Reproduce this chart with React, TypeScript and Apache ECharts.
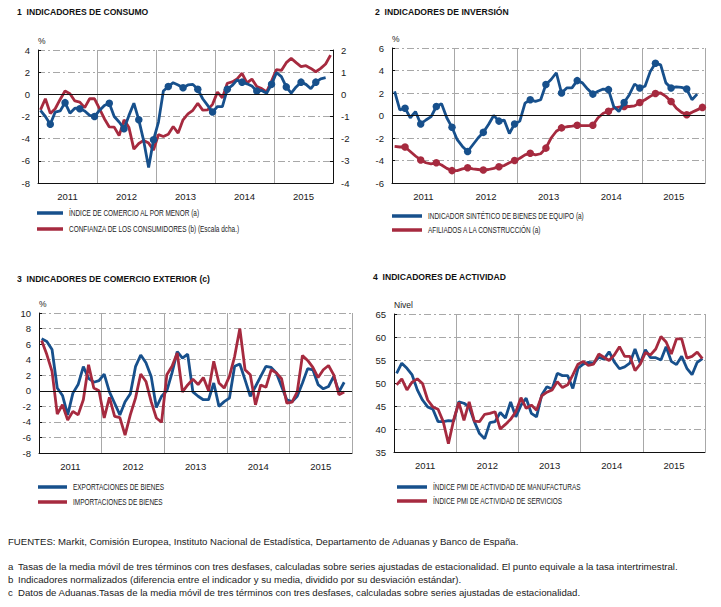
import React, { useEffect, useRef } from 'react';
import * as echarts from 'echarts';

const YEARS = ['2011', '2012', '2013', '2014', '2015'];
const MONTHS = YEARS.flatMap((y) => Array.from({ length: 12 }, (_, m) => `${y}-${String(m + 1).padStart(2, '0')}`));

// Panel 1
const COMERCIO_MENOR = [
  -1.45, -2.0, -2.7, -1.6, -1.5, -0.75, -1.7, -1.25, -1.3, -1.5, -1.9, -2.0,
  -1.45, -1.0, -0.8, -2.0, -2.5, -3.1, -1.9, -0.8, -2.3, -4.2, -6.6, -4.1,
  -2.5, 0.3, 0.7, 1.05, 0.85, 0.6, 0.85, 0.9, 0.45, -0.4, -1.0, -1.6,
  -1.1, -1.1, 0.45, 0.8, 1.3, 1.1, 0.95, 0.75, 0.3, 0.35, 0.1, 0.9,
  1.95, 1.6, 0.67, 0.1, 0.67, 1.1, 0.9, 0.5, 1.1, 1.4, 1.5, null,
];
const CONFIANZA = [
  -0.7, -0.2, -0.86, -0.65, -0.23, 0.15, 0.03, -0.3, -0.35, -0.6, -0.2, -0.2,
  -0.65, -1.1, -1.47, -1.48, -1.86, -1.15, -1.5, -2.47, -2.22, -2.08, -2.2, -2.52,
  -1.82, -1.9, -1.8, -1.45, -1.75, -1.15, -0.88, -0.72, -0.4, -0.71, -0.7, -0.45,
  0.1, -0.16, 0.5, 0.56, 0.7, 0.95, 0.52, 0.69, 0.35, 0.26, 0.11, 0.6,
  1.12, 1.08, 1.43, 1.62, 1.43, 1.25, 1.29, 1.17, 1.02, 1.17, 1.37, 1.77,
];

// Panel 2
const BIENES_EQUIPO = [
  2.15, 0.5, 0.65, -0.2, 0.35, -0.75, -0.4, -0.1, 0.8, 1.05, -0.2, -1.05,
  -2.15, -2.75, -3.2, -2.6, -2.0, -1.5, -0.8, 0.0, -0.5, -0.4, -1.6, -0.75,
  -0.5, 1.1, 1.4, 1.25, 1.4, 2.75, 3.2, 3.8, 2.0, 2.45, 2.45, 3.1,
  2.9, 2.35, 1.9, 2.15, 2.35, 2.3, 0.8, 0.35, 1.15, 1.85, 2.8, 2.45,
  2.6, 3.9, 4.65, 4.5, 2.9, 2.45, 2.55, 2.5, 2.35, 1.4, 1.9, null,
];
const AFILIADOS = [
  -2.75, -2.8, -2.8, -3.2, -3.6, -3.95, -4.2, -4.3, -4.2, -4.4, -4.7, -4.9,
  -4.9, -4.75, -4.65, -4.75, -4.8, -4.85, -4.8, -4.7, -4.55, -4.45, -4.2, -4.0,
  -3.8, -3.5, -3.35, -3.5, -3.4, -2.9, -2.0, -1.4, -1.1, -1.0, -0.95, -0.87,
  -0.9, -0.9, -0.87, -0.2, 0.2, 0.37, 0.65, 0.75, 0.8, 0.8, 0.85, 1.15,
  1.4, 1.7, 1.95, 2.0, 1.7, 1.25, 0.65, 0.28, 0.07, 0.28, 0.5, 0.72,
];

// Panel 3
const EXPORTACIONES = [
  6.7, 6.35, 5.3, 0.35, -0.6, -3.1, -0.3, 0.8, 3.1, 1.6, 1.1, 1.3,
  2.15, -0.15, -1.6, -3.1, -1.4, -0.4, 3.1, 4.6, 3.6, 1.85, -2.15, -0.7,
  0.0, 2.3, 5.05, 4.2, 4.7, -0.15, -0.7, -1.15, -1.15, 1.0, -2.0, -1.4,
  -0.95, 3.15, 3.45, 1.4, -0.7, 0.55, 1.85, 3.15, 3.0, 2.3, 0.55, -1.15,
  -1.4, -0.7, 1.0, 2.85, 2.7, 0.8, 0.25, 0.55, 1.85, -0.15, 1.1, null,
];
const IMPORTACIONES = [
  6.45, 4.65, 2.5, -3.0, -1.8, -3.75, -2.65, -3.1, -1.15, 3.35, 0.35, 0.0,
  -3.5, -0.85, -3.3, -3.45, -5.7, -3.1, -0.95, 2.15, 1.2, -1.4, -3.5, -4.05,
  2.05, 3.15, 4.85, -0.15, 0.75, 1.5, 0.8, 1.7, 0.0, 3.8, 1.0, 0.35,
  1.85, 4.4, 8.0, 2.7, 2.05, -1.8, 0.75, 0.45, 2.7, 2.3, 1.55, -1.6,
  -1.45, -0.15, 4.55, 3.9, 3.0, 1.7, 2.7, 3.25, 2.05, -0.5, -0.15, null,
];

// Panel 4
const PMI_MANUF = [
  52.1, 54.3, 53.2, 51.75, 48.5, 46.3, 44.8, 44.3, 41.6, 41.6, 41.8, 41.7,
  45.9, 45.6, 44.8, 41.6, 39.0, 37.9, 41.4, 41.6, 43.6, 42.4, 45.9, 42.65,
  45.2, 46.7, 43.4, 42.65, 47.4, 49.2, 48.7, 52.1, 51.6, 51.6, 48.8, 53.2,
  54.1, 54.5, 54.3, 55.6, 55.2, 56.8, 54.6, 53.1, 53.5, 54.3, 57.4, 54.3,
  57.2, 55.5, 55.5, 55.0, 57.9, 54.7, 54.0, 55.8, 53.2, 51.8, 54.5, 55.3,
];
const PMI_SERV = [
  49.6, 50.9, 48.5, 50.2, 50.9, 49.9, 46.3, 44.8, 44.3, 41.6, 36.8, 41.9,
  45.8, 41.9, 45.9, 41.7, 41.6, 43.2, 43.4, 43.75, 40.0, 41.0, 42.1, 43.75,
  46.8, 44.5, 45.2, 44.1, 47.2, 48.0, 48.5, 50.3, 49.0, 49.6, 51.75, 54.1,
  54.7, 53.8, 54.1, 56.3, 55.6, 54.9, 56.1, 57.9, 55.8, 55.8, 52.7, 54.1,
  56.6, 56.1, 57.4, 60.1, 58.9, 56.3, 59.6, 59.6, 55.4, 55.8, 56.7, 55.3,
];

const TITLES = [
  '1  INDICADORES DE CONSUMO',
  '2  INDICADORES DE INVERSIÓN',
  '3  INDICADORES DE COMERCIO EXTERIOR (c)',
  '4  INDICADORES DE ACTIVIDAD',
];
const NAMES = {
  comercio: 'ÍNDICE DE COMERCIO AL POR MENOR (a)',
  confianza: 'CONFIANZA DE LOS CONSUMIDORES (b) (Escala dcha.)',
  equipo: 'INDICADOR SINTÉTICO DE BIENES DE EQUIPO (a)',
  afiliados: 'AFILIADOS A LA CONSTRUCCIÓN (a)',
  expo: 'EXPORTACIONES DE BIENES',
  impo: 'IMPORTACIONES DE BIENES',
  manuf: 'ÍNDICE PMI DE ACTIVIDAD DE MANUFACTURAS',
  serv: 'ÍNDICE PMI DE ACTIVIDAD DE SERVICIOS',
};
const FOOTNOTES = [
  'FUENTES: Markit, Comisión Europea, Instituto Nacional de Estadística, Departamento de Aduanas y Banco de España.',
  'Tasas de la media móvil de tres términos con tres desfases, calculadas sobre series ajustadas de estacionalidad. El punto equivale a la tasa intertrimestral.',
  'Indicadores normalizados (diferencia entre el indicador y su media, dividido por su desviación estándar).',
  'Datos de Aduanas.Tasas de la media móvil de tres términos con tres desfases, calculadas sobre series ajustadas de estacionalidad.',
];
const NOTE_KEYS = ['a', 'b', 'c'];

const BLUE = '#17508c';
const RED = '#a62a3f';
const GRID_GRAY = '#a8a8a8';
const FONT = '"Liberation Sans", Arial, sans-serif';
const TXT = '#1a1a1a';

export default function App() {
  const ref = useRef<HTMLDivElement>(null);
  useEffect(() => {
    if (!ref.current) return;
    const chart = echarts.init(ref.current, undefined, { renderer: 'svg' });

    const grids = [
      { left: 38, top: 50, width: 295, height: 133 },
      { left: 392, top: 48, width: 313, height: 135 },
      { left: 39, top: 313, width: 313, height: 140 },
      { left: 394, top: 314, width: 311, height: 138 },
    ];

    const xAxis = grids.map((_, gi) => ({
      type: 'category',
      gridIndex: gi,
      data: MONTHS,
      boundaryGap: true,
      axisLine: { show: true, onZero: false, lineStyle: { color: '#111', width: 1 } },
      axisTick: { show: false },
      axisLabel: {
        interval: (i: number) => i % 12 === 6,
        formatter: (v: string) => v.slice(0, 4),
        color: TXT,
        fontSize: 9.5,
        fontFamily: FONT,
        margin: 8,
        padding: [0, 5, 0, 0],
      },
      splitLine: {
        show: true,
        interval: (i: number) => i % 12 === 0 && i > 0,
        lineStyle: { color: GRID_GRAY, width: 1, type: 'solid' },
      },
    }));

    const yBase = (gi: number, min: number, max: number, interval: number, extra: any = {}) => ({
      type: 'value',
      gridIndex: gi,
      min,
      max,
      interval,
      axisLine: { show: true, lineStyle: { color: '#111', width: 1 } },
      axisTick: { show: true, inside: true, length: 3, lineStyle: { color: '#111' } },
      axisLabel: { color: TXT, fontSize: 9.5, fontFamily: FONT, margin: 8 },
      splitLine: { show: true, lineStyle: { color: GRID_GRAY, width: 1, type: [7, 3, 2, 3] } },
      nameTextStyle: { color: TXT, fontSize: 8.5, fontFamily: FONT, align: 'left', verticalAlign: 'middle' },
      nameGap: 9,
      ...extra,
    });

    const yAxis = [
      yBase(0, -8, 4, 2, { name: '%' }),
      yBase(0, -4, 2, 1, { position: 'right', splitLine: { show: false } }),
      yBase(1, -6, 6, 2, { name: '%' }),
      yBase(2, -8, 10, 2, { name: '%' }),
      yBase(3, 35, 65, 5, { name: 'Nivel' }),
    ];

    const zeroLine = {
      silent: true,
      symbol: 'none',
      label: { show: false },
      lineStyle: { color: '#111', width: 1, type: 'solid' },
      data: [{ yAxis: 0 }],
    };

    const line = (name: string, data: (number | null)[], color: string, xi: number, yi: number, dots: boolean, extra: any = {}) => ({
      type: 'line',
      name,
      data,
      xAxisIndex: xi,
      yAxisIndex: yi,
      color,
      lineStyle: { color, width: 2.8 },
      itemStyle: { color },
      symbol: 'circle',
      showSymbol: dots,
      showAllSymbol: true,
      symbolSize: (_v: any, p: any) => (p.dataIndex % 3 === 2 ? 7.5 : 0),
      connectNulls: false,
      z: 3,
      ...extra,
    });

    const series = [
      line(NAMES.confianza, CONFIANZA, RED, 0, 1, false),
      line(NAMES.comercio, COMERCIO_MENOR, BLUE, 0, 0, true, { markLine: zeroLine, z: 4 }),
      line(NAMES.afiliados, AFILIADOS, RED, 1, 2, true),
      line(NAMES.equipo, BIENES_EQUIPO, BLUE, 1, 2, true, { markLine: zeroLine, z: 4 }),
      line(NAMES.expo, EXPORTACIONES, BLUE, 2, 3, false, { markLine: zeroLine }),
      line(NAMES.impo, IMPORTACIONES, RED, 2, 3, false, { z: 4 }),
      line(NAMES.manuf, PMI_MANUF, BLUE, 3, 4, false),
      line(NAMES.serv, PMI_SERV, RED, 3, 4, false, { z: 4 }),
    ];

    // Legends (drawn as graphic so the condensed type can be reproduced)
    const legendDefs: [string, string, number, number, number][] = [
      [NAMES.comercio, BLUE, 37, 213, 26],
      [NAMES.confianza, RED, 37, 229, 26],
      [NAMES.equipo, BLUE, 392, 216, 30],
      [NAMES.afiliados, RED, 392, 230, 30],
      [NAMES.expo, BLUE, 38, 487, 29],
      [NAMES.impo, RED, 38, 502, 29],
      [NAMES.manuf, BLUE, 397, 487, 30],
      [NAMES.serv, RED, 397, 501, 30],
    ];

    const graphic: any[] = [];
    legendDefs.forEach(([name, color, x, y, w]) => {
      graphic.push({
        type: 'rect',
        shape: { x, y: y - 1.75, width: w, height: 3.5 },
        style: { fill: color },
        silent: true,
      });
      graphic.push({
        type: 'text',
        x: x + w + 6,
        y,
        scaleX: 0.76,
        silent: true,
        style: { text: name, fontSize: 8.5, fontFamily: FONT, fill: TXT, verticalAlign: 'middle' },
      });
    });

    graphic.push({
      type: 'text',
      left: 8,
      top: 536,
      style: { text: FOOTNOTES[0], fontSize: 9.6, fontFamily: FONT, fill: TXT },
    });
    NOTE_KEYS.forEach((k, i) => {
      const y = 561 + i * 13;
      graphic.push({ type: 'text', left: 8, top: y, style: { text: k, fontSize: 9.6, fontFamily: FONT, fill: TXT } });
      graphic.push({ type: 'text', left: 18, top: y, style: { text: FOOTNOTES[i + 1], fontSize: 9.6, fontFamily: FONT, fill: TXT } });
    });

    const titlePos = [
      [17, 7],
      [375, 7],
      [17, 274],
      [373, 272],
    ];
    const title = TITLES.map((t, i) => ({
      text: t,
      left: titlePos[i][0],
      top: titlePos[i][1],
      padding: 0,
      textStyle: { fontSize: 8.6, fontWeight: 'bold', color: '#111', fontFamily: FONT },
    }));

    chart.setOption({
      animation: false,
      backgroundColor: '#ffffff',
      textStyle: { fontFamily: FONT },
      title,
      grid: grids.map((g) => ({ ...g, containLabel: false })),
      xAxis,
      yAxis,
      series,
      graphic,
    });
    return () => chart.dispose();
  }, []);
  return <div ref={ref} style={{ position: 'absolute', left: 0, top: 0, width: 721, height: 607 }} />;
}
